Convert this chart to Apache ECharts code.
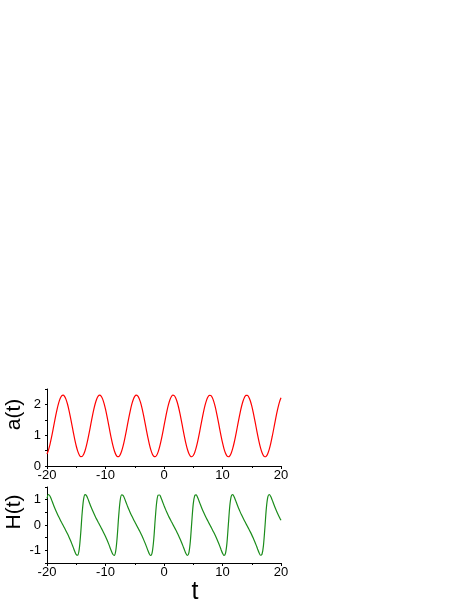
<!DOCTYPE html>
<html>
<head>
<meta charset="utf-8">
<style>
  html, body { margin: 0; padding: 0; background: #fff; }
  #chart { width: 469px; height: 607px; }
</style>
<script src="https://cdn.jsdelivr.net/npm/echarts@6/dist/echarts.min.js"></script>
</head>
<body>
<div id="chart"></div>
<script>
// sample times (step 0.25)
var tValues = [
  -20, -19.75, -19.5, -19.25, -19, -18.75, -18.5, -18.25, -18, -17.75, -17.5, -17.25,
  -17, -16.75, -16.5, -16.25, -16, -15.75, -15.5, -15.25, -15, -14.75, -14.5, -14.25,
  -14, -13.75, -13.5, -13.25, -13, -12.75, -12.5, -12.25, -12, -11.75, -11.5, -11.25,
  -11, -10.75, -10.5, -10.25, -10, -9.75, -9.5, -9.25, -9, -8.75, -8.5, -8.25,
  -8, -7.75, -7.5, -7.25, -7, -6.75, -6.5, -6.25, -6, -5.75, -5.5, -5.25,
  -5, -4.75, -4.5, -4.25, -4, -3.75, -3.5, -3.25, -3, -2.75, -2.5, -2.25,
  -2, -1.75, -1.5, -1.25, -1, -0.75, -0.5, -0.25, 0, 0.25, 0.5, 0.75,
  1, 1.25, 1.5, 1.75, 2, 2.25, 2.5, 2.75, 3, 3.25, 3.5, 3.75,
  4, 4.25, 4.5, 4.75, 5, 5.25, 5.5, 5.75, 6, 6.25, 6.5, 6.75,
  7, 7.25, 7.5, 7.75, 8, 8.25, 8.5, 8.75, 9, 9.25, 9.5, 9.75,
  10, 10.25, 10.5, 10.75, 11, 11.25, 11.5, 11.75, 12, 12.25, 12.5, 12.75,
  13, 13.25, 13.5, 13.75, 14, 14.25, 14.5, 14.75, 15, 15.25, 15.5, 15.75,
  16, 16.25, 16.5, 16.75, 17, 17.25, 17.5, 17.75, 18, 18.25, 18.5, 18.75,
  19, 19.25, 19.5, 19.75, 20
];

// a(t), upper panel
var aValues = [
  0.387, 0.517, 0.695, 0.910, 1.150, 1.400, 1.643, 1.865, 2.051, 2.191, 2.276, 2.300,
  2.261, 2.164, 2.012, 1.816, 1.588, 1.342, 1.094, 0.858, 0.650, 0.482, 0.365, 0.306,
  0.309, 0.374, 0.496, 0.669, 0.880, 1.117, 1.366, 1.611, 1.837, 2.029, 2.176, 2.268,
  2.300, 2.270, 2.180, 2.035, 1.844, 1.620, 1.375, 1.126, 0.888, 0.675, 0.502, 0.377,
  0.311, 0.305, 0.362, 0.477, 0.643, 0.850, 1.085, 1.333, 1.579, 1.808, 2.006, 2.159,
  2.259, 2.299, 2.278, 2.195, 2.057, 1.872, 1.651, 1.408, 1.159, 0.918, 0.702, 0.522,
  0.391, 0.316, 0.303, 0.351, 0.459, 0.618, 0.821, 1.053, 1.300, 1.547, 1.779, 1.982,
  2.142, 2.249, 2.298, 2.284, 2.209, 2.078, 1.899, 1.682, 1.441, 1.192, 0.949, 0.728,
  0.543, 0.405, 0.323, 0.301, 0.341, 0.441, 0.595, 0.792, 1.021, 1.267, 1.515, 1.750,
  1.957, 2.123, 2.238, 2.295, 2.289, 2.223, 2.099, 1.925, 1.712, 1.474, 1.225, 0.981,
  0.756, 0.565, 0.420, 0.330, 0.300, 0.332, 0.425, 0.571, 0.763, 0.989, 1.234, 1.483,
  1.720, 1.932, 2.104, 2.226, 2.291, 2.294, 2.235, 2.118, 1.950, 1.742, 1.506, 1.258,
  1.012, 0.784, 0.588, 0.437, 0.339, 0.300, 0.324, 0.409, 0.549, 0.736, 0.958, 1.201,
  1.450, 1.690, 1.906, 2.083, 2.213
];

// H(t), lower panel
var hValues = [
  1.054, 1.203, 1.146, 1.012, 0.860, 0.711, 0.572, 0.443, 0.322, 0.207, 0.096, -0.013,
  -0.122, -0.233, -0.349, -0.472, -0.603, -0.745, -0.894, -1.046, -1.169, -1.193, -0.972, -0.368,
  0.442, 1.010, 1.199, 1.160, 1.031, 0.880, 0.730, 0.590, 0.460, 0.338, 0.222, 0.111,
  0.002, -0.107, -0.218, -0.333, -0.455, -0.585, -0.725, -0.875, -1.026, -1.156, -1.200, -1.022,
  -0.468, 0.340, 0.958, 1.191, 1.173, 1.051, 0.900, 0.750, 0.608, 0.476, 0.353, 0.237,
  0.126, 0.016, -0.093, -0.203, -0.318, -0.438, -0.567, -0.706, -0.854, -1.007, -1.142, -1.204,
  -1.065, -0.564, 0.234, 0.898, 1.178, 1.184, 1.069, 0.920, 0.769, 0.626, 0.493, 0.369,
  0.252, 0.140, 0.031, -0.078, -0.188, -0.302, -0.422, -0.550, -0.687, -0.834, -0.987, -1.127,
  -1.204, -1.101, -0.654, 0.125, 0.832, 1.161, 1.192, 1.087, 0.940, 0.789, 0.645, 0.510,
  0.385, 0.268, 0.155, 0.045, -0.064, -0.174, -0.287, -0.406, -0.532, -0.668, -0.814, -0.966,
  -1.110, -1.201, -1.132, -0.737, 0.015, 0.758, 1.139, 1.199, 1.106, 0.961, 0.809, 0.663,
  0.528, 0.401, 0.283, 0.170, 0.060, -0.049, -0.159, -0.272, -0.390, -0.515, -0.650, -0.794,
  -0.946, -1.093, -1.195, -1.156, -0.813, -0.096, 0.676, 1.110, 1.203, 1.123, 0.981, 0.829,
  0.682, 0.545, 0.418, 0.298, 0.184
];

var xTicks = [-20, -10, 0, 10, 20];

var chart = echarts.init(document.getElementById('chart'));
var font = 'Liberation Sans, Arial, sans-serif';

function pairs(ys) {
  var out = [];
  for (var i = 0; i < tValues.length; i++) {
    out.push([tValues[i], ys[i]]);
  }
  return out;
}

function xAxisOpt(idx, name) {
  return {
    type: 'value',
    gridIndex: idx,
    min: xTicks[0],
    max: xTicks[xTicks.length - 1],
    interval: 10,
    name: name,
    nameLocation: 'middle',
    nameGap: 14,
    nameTextStyle: { fontFamily: font, fontSize: 25, color: '#000', padding: [0, 0, 0, 62] },
    axisLine: { onZero: false, lineStyle: { color: '#000', width: 1 } },
    axisTick: { show: true, inside: false, length: 3, lineStyle: { color: '#000' } },
    minorTick: { show: true, splitNumber: 2, length: 2, lineStyle: { color: '#000' } },
    axisLabel: { margin: 3, fontFamily: font, fontSize: 13, color: '#000' },
    splitLine: { show: false }
  };
}

function yAxisOpt(idx, name, min, max) {
  return {
    type: 'value',
    gridIndex: idx,
    min: min,
    max: max,
    interval: 0.5,
    name: name,
    nameLocation: 'middle',
    nameRotate: 90,
    nameGap: 22,
    nameTextStyle: { fontFamily: font, fontSize: 21, color: '#000', padding: [0, 0, 0, 26] },
    axisLine: { onZero: false, lineStyle: { color: '#000', width: 1 } },
    axisTick: { show: true, inside: false, length: 2, lineStyle: { color: '#000' } },
    axisLabel: {
      margin: 6, fontFamily: font, fontSize: 13, color: '#000',
      formatter: function (v) { return Number.isInteger(v) ? String(v) : ''; }
    },
    splitLine: { show: false }
  };
}

chart.setOption({
  backgroundColor: '#fff',
  animation: false,
  grid: [
    { left: 47, right: 188, top: 389, height: 77 },
    { left: 47, right: 188, top: 487, height: 76 }
  ],
  xAxis: [xAxisOpt(0, ''), xAxisOpt(1, 't')],
  yAxis: [yAxisOpt(0, 'a(t)', 0, 2.5), yAxisOpt(1, 'H(t)', -1.5, 1.5)],
  series: [
    {
      type: 'line',
      xAxisIndex: 0,
      yAxisIndex: 0,
      data: pairs(aValues),
      showSymbol: false,
      smooth: 0.3,
      lineStyle: { color: '#ff0000', width: 1.2 }
    },
    {
      type: 'line',
      xAxisIndex: 1,
      yAxisIndex: 1,
      data: pairs(hValues),
      showSymbol: false,
      smooth: 0.3,
      lineStyle: { color: '#1a8c1a', width: 1.2 }
    }
  ]
});
</script>
</body>
</html>
